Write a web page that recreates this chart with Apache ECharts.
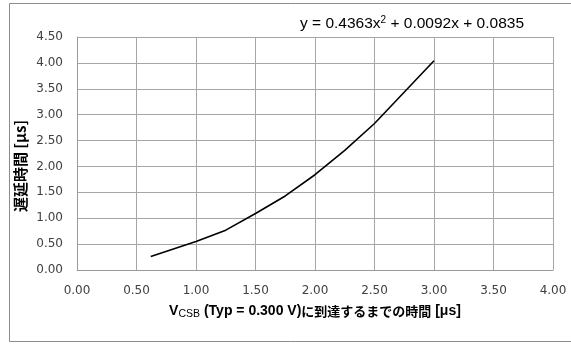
<!DOCTYPE html>
<html><head><meta charset="utf-8">
<script src="https://cdn.jsdelivr.net/npm/echarts@6/dist/echarts.min.js"></script>
<style>html,body{margin:0;padding:0;background:#fff}#c{width:571px;height:344px}</style>
</head><body><div id="c"></div>
<script>
const xValues = [0.62, 1.00, 1.25, 1.50, 1.75, 2.00, 2.25, 2.50, 3.00];
const yValues = [0.26, 0.55, 0.77, 1.09, 1.43, 1.84, 2.31, 2.83, 4.04];
const eqParts = ['y = 0.4363x', '2', ' + 0.0092x + 0.0835'];
const yAxisTitle = '遅延時間 [μs]';
const xTitleMain = 'V';
const xTitleSub = 'CSB';
const xTitleLatin = '(Typ = 0.300 V)';
const xTitleCJK = 'に到達するまでの時間';
const xTitleUnit = ' [μs]';

const chart = echarts.init(document.getElementById('c'), null, {renderer:'canvas'});
const fmt = v => v.toFixed(2);
const LAT = '"Liberation Sans", Arial, sans-serif';
const CJK = '"Noto Sans CJK JP", sans-serif';
chart.setOption({
  animation:false,
  backgroundColor:'#fff',
  grid:{left:77,right:18,top:37,bottom:74,containLabel:false},
  graphic:[
    {type:'rect',shape:{x:9.5,y:3.5,width:600,height:338},style:{fill:'none',stroke:'#8c8c8c',lineWidth:1},silent:true},
    {type:'text',left:300,top:15,style:{
      text:'{a|'+eqParts[0]+'}{s|'+eqParts[1]+'}{a|'+eqParts[2]+'}',
      rich:{a:{fontSize:15.5,fontFamily:LAT,fill:'#000'},s:{fontSize:10,fontFamily:LAT,fill:'#000',padding:[0,0,7,0]}}
    }},
    {type:'text',x:20,y:166,rotation:Math.PI/2,style:{
      text:yAxisTitle,font:'bold 15px '+CJK,fill:'#000',align:'center',verticalAlign:'middle'
    }}
  ],
  xAxis:{type:'value',min:0,max:4,interval:0.5,
    axisLine:{show:true,lineStyle:{color:'#9a9a9a'}},axisTick:{show:false},
    splitLine:{show:true,lineStyle:{color:'#a6a6a6',width:1}},
    axisLabel:{formatter:fmt,color:'#404040',fontSize:12,fontFamily:'"DejaVu Sans", sans-serif',margin:15},
    name:'{b|'+xTitleMain+'}{s|'+xTitleSub+'}{b| '+xTitleLatin+'}{c|'+xTitleCJK+'}{b|'+xTitleUnit+'}',nameLocation:'middle',nameGap:33,
    nameTextStyle:{rich:{
      b:{fontSize:14,fontWeight:'bold',fontFamily:LAT,color:'#000'},
      c:{fontSize:13,fontWeight:'bold',fontFamily:CJK,color:'#000'},
      s:{fontSize:10.5,fontWeight:'normal',fontFamily:LAT,color:'#000',padding:[6,0,0,0]}
    }}
  },
  yAxis:{type:'value',min:0,max:4.5,interval:0.5,
    axisLine:{show:true,lineStyle:{color:'#9a9a9a'}},axisTick:{show:false},
    splitLine:{show:true,lineStyle:{color:'#a6a6a6',width:1}},
    axisLabel:{formatter:fmt,color:'#404040',fontSize:12,fontFamily:'"DejaVu Sans", sans-serif',margin:14}
  },
  series:[{type:'line',data:xValues.map((x,i)=>[x,yValues[i]]),showSymbol:false,
    lineStyle:{color:'#000',width:1.6},smooth:false}]
});
</script></body></html>
